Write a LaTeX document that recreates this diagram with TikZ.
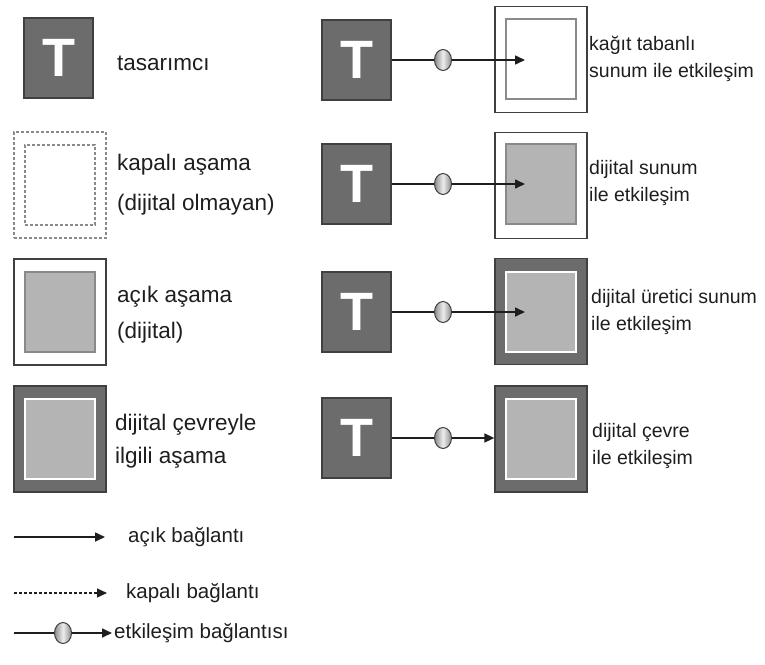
\documentclass[tikz,border=0pt]{standalone}
\usepackage{fontspec}
\setmainfont{Liberation Sans}
\usetikzlibrary{arrows.meta,shapes.geometric}
\definecolor{dgink}{HTML}{1E1E1E}
\definecolor{dgdark}{HTML}{6C6C6C}
\definecolor{dgedge}{HTML}{404040}
\definecolor{dgfill}{HTML}{B4B4B4}
\definecolor{dgrim}{HTML}{8A8A8A}
\tikzset{
  dg designer/.style={draw=dgedge, line width=1.2pt, fill=dgdark, minimum width=69pt,
    minimum height=80pt, inner sep=0pt, text=white, font=\fontsize{54}{54}\selectfont\bfseries},
  dg outer/.style={draw=dgedge, line width=1.3pt, fill=white, minimum width=92pt,
    minimum height=106pt, inner sep=0pt},
  dg inner/.style={draw=dgrim, line width=2pt, fill=white, minimum width=70pt,
    minimum height=80pt, inner sep=0pt},
  dg closed/.style={draw=dgrim, line width=1.5pt, dash pattern=on 3pt off 2pt},
  dg env/.style={dg outer, fill=dgdark},
  dg core/.style={dg inner, draw=white, fill=dgfill},
  dg knob/.style={ellipse, draw=dgedge, line width=1pt, minimum width=17pt,
    minimum height=21pt, inner sep=0pt, left color=dgrim, right color=dgrim,
    middle color=white!85!dgrim},
  dg link/.style={draw=dgink, line width=1.6pt},
  dg arrow/.style={dg link, -{Triangle[length=10pt,width=9pt]}},
  dg label/.style={anchor=west, inner sep=0pt, align=left, text=dgink,
    font=\fontsize{22.5}{36}\selectfont},
  dg note/.style={dg label, font=\fontsize{19.5}{27}\selectfont},
  dg key/.style={dg label, font=\fontsize{20.5}{24}\selectfont}
}
\begin{document}
\begin{tikzpicture}[x=1pt, y=-1pt]
  \useasboundingbox (0,0) rectangle (765,664);

  % legend of stages
  \node[dg designer] (desL) at (58.5,58) {T};
  \node[dg label] (desTxt) at (117,63) {tasarımcı};

  \node[dg outer, dg closed, fill=none] (closedO) at (60,185) {};
  \node[dg inner, dg closed] (closedI) at (60,185) {};
  \node[dg label, font=\fontsize{22.5}{40}\selectfont] (closedTxt) at (117,185) {kapalı aşama\\(dijital olmayan)};

  \node[dg outer] (openO) at (60,312) {};
  \node[dg inner, fill=dgfill] (openI) at (60,312) {};
  \node[dg label] (openTxt) at (117,315) {açık aşama\\(dijital)};

  \node[dg env] (envO) at (60,439) {};
  \node[dg core] (envI) at (60,439) {};
  \node[dg label, font=\fontsize{22.5}{33}\selectfont] (envTxt) at (115,441) {dijital çevreyle\\ilgili aşama};

  % designer -> stage interactions
  \node[dg designer] (tA) at (356.5,60) {T};
  \node[dg knob] (kA) at (443,60) {};
  \node[dg outer] (oA) at (541,59.5) {};
  \node[dg inner] (iA) at (541,58.5) {};
  \coordinate (endA) at (525,60);
  \draw[dg link] (tA) -- (kA);
  \draw[dg arrow] (kA) -- (endA);
  \node[dg note] (noteA) at (589,58.5) {kağıt tabanlı\\sunum ile etkileşim};

  \node[dg designer] (tB) at (356.5,184) {T};
  \node[dg knob] (kB) at (443,184) {};
  \node[dg outer] (oB) at (541,185.5) {};
  \node[dg inner, fill=dgfill] (iB) at (541,184) {};
  \coordinate (endB) at (525,184);
  \draw[dg link] (tB) -- (kB);
  \draw[dg arrow] (kB) -- (endB);
  \node[dg note] (noteB) at (589,183) {dijital sunum\\ile etkileşim};

  \node[dg designer] (tC) at (356.5,312) {T};
  \node[dg knob] (kC) at (443,312) {};
  \node[dg env] (oC) at (541,311.5) {};
  \node[dg core] (iC) at (541,312) {};
  \coordinate (endC) at (525,312);
  \draw[dg link] (tC) -- (kC);
  \draw[dg arrow] (kC) -- (endC);
  \node[dg note] (noteC) at (591,312) {dijital üretici sunum\\ile etkileşim};

  \node[dg designer] (tD) at (356.5,438) {T};
  \node[dg knob] (kD) at (443,438) {};
  \node[dg env] (oD) at (541,439) {};
  \node[dg core] (iD) at (541,439) {};
  \draw[dg link] (tD) -- (kD);
  \draw[dg arrow] (kD) -- (oD.west |- kD);
  \node[dg note] (noteD) at (592,446) {dijital çevre\\ile etkileşim};

  % legend of connections
  \coordinate (openS) at (14,537);
  \coordinate (openE) at (105,537);
  \draw[dg arrow] (openS) -- (openE);
  \node[dg key] (openKey) at (128,537) {açık bağlantı};

  \coordinate (closedS) at (14,593);
  \coordinate (closedE) at (107,593);
  \draw[dg arrow, line width=1.2pt, dash pattern=on 3pt off 2pt] (closedS) -- (closedE);
  \node[dg key] (closedKey) at (126,593) {kapalı bağlantı};

  \coordinate (actS) at (14,633);
  \node[dg knob] (kL) at (63,633) {};
  \coordinate (actE) at (112,633);
  \draw[dg link] (actS) -- (kL);
  \draw[dg arrow] (kL) -- (actE);
  \node[dg key] (actKey) at (114,633) {etkileşim bağlantısı};
\end{tikzpicture}
\end{document}
